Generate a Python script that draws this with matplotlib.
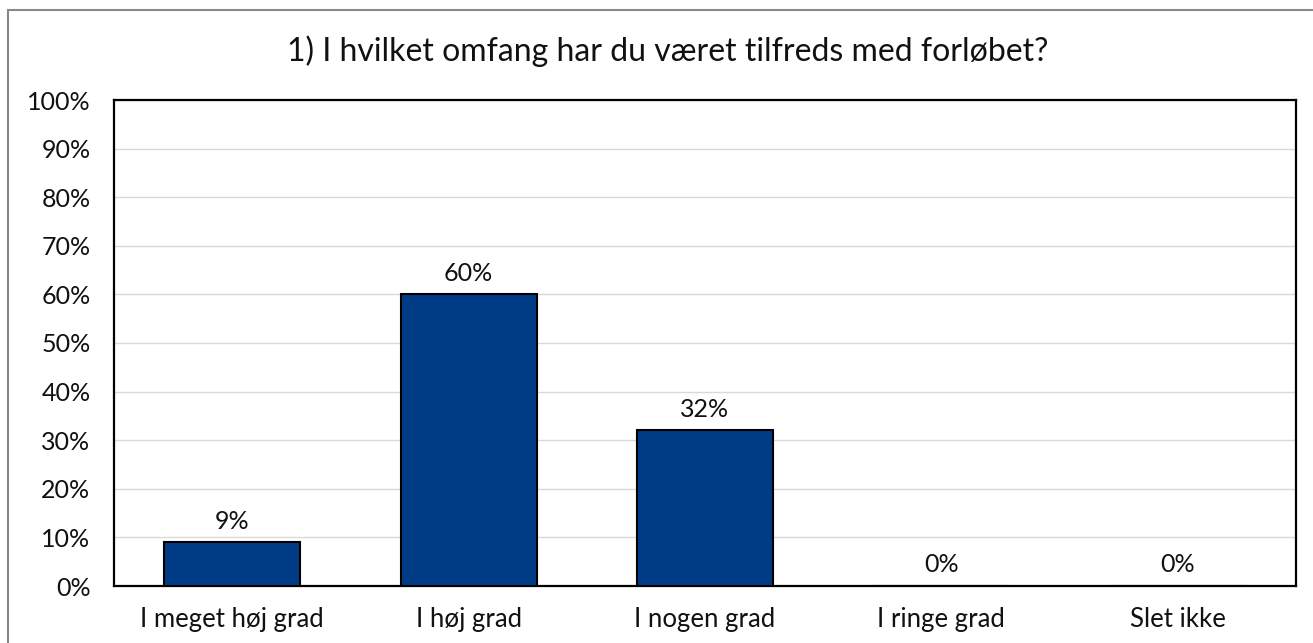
import matplotlib.pyplot as plt
from matplotlib.patches import Rectangle
from matplotlib.ticker import PercentFormatter

plt.rcParams["font.family"] = ["Lato", "DejaVu Sans"]

categories = ["I meget høj grad", "I høj grad", "I nogen grad", "I ringe grad", "Slet ikke"]
values = [9, 60, 32, 0, 0]
title = "1) I hvilket omfang har du været tilfreds med forløbet?"

W, H = 1313, 643
fig = plt.figure(figsize=(W / 100, H / 100), dpi=100)
ax = fig.add_axes([114 / W, 1 - 586 / H, (1296 - 114) / W, (586 - 100) / H])

# outer chart frame (cropped at right/bottom)
fig.add_artist(Rectangle((8 / W, -0.1), 1.2, 1.1 - 10 / H, transform=fig.transFigure,
                         fill=False, edgecolor="#888888", linewidth=1.5))

x = range(len(categories))
bars = ax.bar(x, values, width=0.575, color="#003C85", edgecolor="black",
              linewidth=1.5, zorder=3)
for xi, v in zip(x, values):
    ax.annotate(f"{v}%", (xi, v), xytext=(0, 7), textcoords="offset points",
                ha="center", va="bottom", fontsize=18, color="#111111")

ax.set_xlim(-0.5, len(categories) - 0.5)
ax.set_ylim(0, 100)
ax.set_yticks(range(0, 101, 10))
ax.yaxis.set_major_formatter(PercentFormatter(decimals=0))
ax.set_xticks(list(x))
ax.set_xticklabels(categories)
ax.tick_params(axis="both", length=0, labelsize=18, colors="#111111")
ax.tick_params(axis="x", labelsize=18.5, pad=15)
ax.tick_params(axis="y", pad=17)
ax.grid(axis="y", color="#D9D9D9", linewidth=1, zorder=0)
for s in ax.spines.values():
    s.set_linewidth(1.6)
    s.set_color("black")

fig.text(668 / W, 1 - 61 / H, title, ha="center", va="baseline",
         fontsize=23, color="#111111")

fig.savefig("out.png", dpi=100)
